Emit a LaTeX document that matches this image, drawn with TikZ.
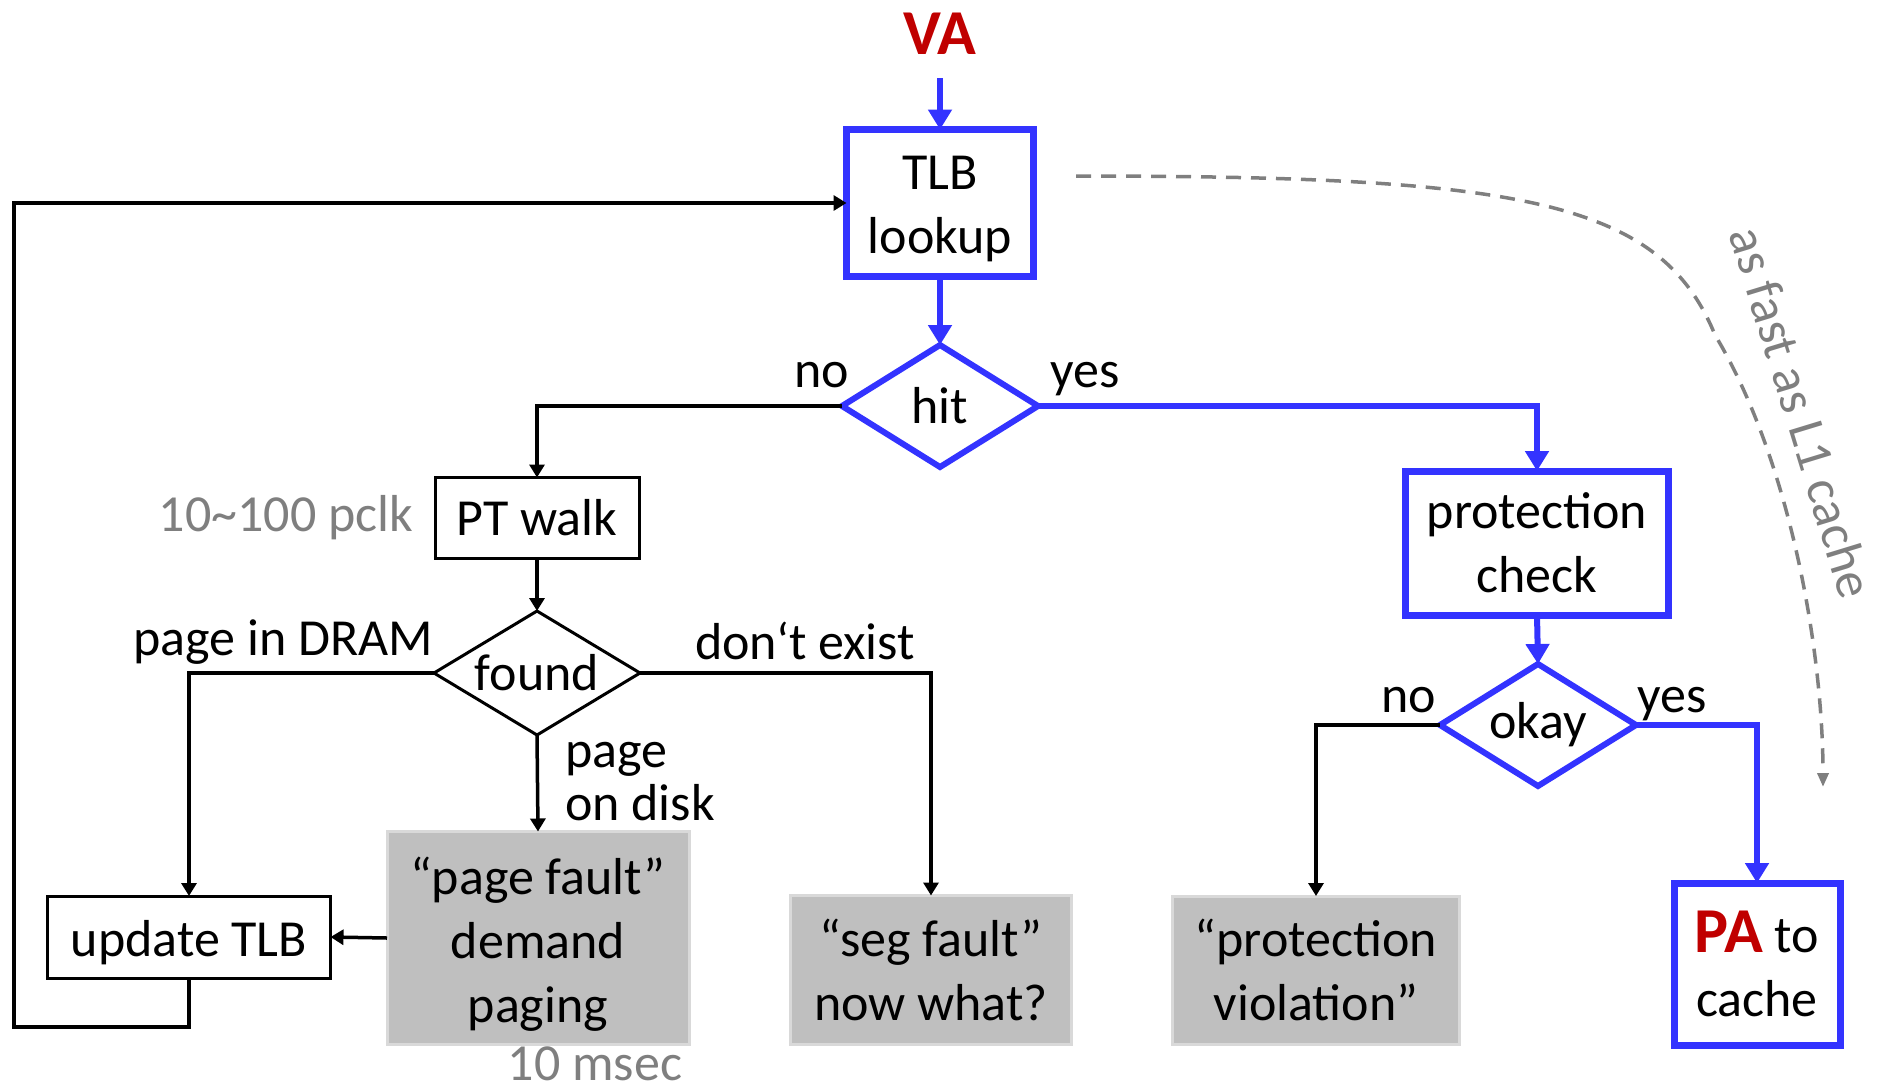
\documentclass[tikz,border=0pt]{standalone}
\usepackage{fontspec}
\setmainfont{Carlito}
\usetikzlibrary{arrows.meta,shapes.geometric}
\definecolor{myblue}{HTML}{3333FF}
\definecolor{myred}{HTML}{C00000}
\definecolor{txtgray}{HTML}{7F7F7F}
\definecolor{boxgray}{HTML}{BFBFBF}
\definecolor{boxedge}{HTML}{D9D9D9}
\newcommand{\lowtext}[1]{\raisebox{-6pt}[\height][\depth]{#1}}
\begin{document}
\begin{tikzpicture}[x=1pt,y=-1pt,
  every node/.style={font=\fontsize{52}{64}\selectfont, inner sep=0pt, outer sep=0pt},
  bluebox/.style={rectangle, draw=myblue, line width=7pt, fill=white, align=center},
  blackbox/.style={rectangle, draw=black, line width=3pt, fill=white, align=center},
  graybox/.style={rectangle, draw=boxedge, line width=3pt, fill=boxgray, align=center},
  bluedia/.style={diamond, aspect=1.6, draw=myblue, line width=6pt, fill=white, minimum width=196pt, minimum height=122pt},
  blackdia/.style={diamond, aspect=1.6, draw=black, line width=3pt, fill=white, minimum width=206pt, minimum height=124pt},
  bluearrow/.style={draw=myblue, line width=6pt, -{Triangle[length=20pt,width=23pt]}},
  blackarrow/.style={draw=black, line width=3.5pt, -{Triangle[length=13pt,width=15pt]}},
  graytext/.style={text=txtgray},
  bigbold/.style={font=\fontsize{64}{64}\selectfont\bfseries, text=myred},
  fastline/.style={draw=txtgray, line width=3.5pt, dash pattern=on 15pt off 10pt, -{Triangle[length=14pt,width=11pt]}}
]
\useasboundingbox (0,0) rectangle (1879,1090);

% title and entry
\node[bigbold] (VA) at (940,34) {VA};
\coordinate (vaout) at (940,78);

% nodes
\node[bluebox, minimum width=187pt, minimum height=147pt] (TLB) at (940,203) {\lowtext{TLB}\\\lowtext{lookup}};
\node[bluedia] (hit) at (940,406) {hit};
\node[blackbox, minimum width=204pt, minimum height=81pt] (PT) at (537,518) {PT walk};
\node[blackdia] (found) at (537,673) {found};
\node[blackbox, minimum width=283pt, minimum height=82pt] (upd) at (189,937) {\lowtext{update TLB}};
\node[graybox, minimum width=302pt, minimum height=213pt] (pf) at (538,938) {\lowtext{“page fault”}\\\lowtext{demand}\\\lowtext{paging}};
\node[graybox, minimum width=281pt, minimum height=149pt] (seg) at (931,970) {“seg fault”\\now what?};
\node[bluebox, minimum width=263pt, minimum height=144pt] (prot) at (1537,543) {protection\\check};
\node[bluedia] (okay) at (1538,725) {okay};
\node[graybox, minimum width=287pt, minimum height=148pt] (viol) at (1316,970) {“protection\\violation”};
\node[bluebox, minimum width=166pt, minimum height=162pt] (PA) at (1757,964) {{\fontsize{64}{64}\selectfont\bfseries\color{myred}PA} to\\cache};

% labels
\node[anchor=base] (nohit) at (822,387) {no};
\node[anchor=base] (yeshit) at (1085,387) {yes};
\node[anchor=base] (nook) at (1409,712) {no};
\node[anchor=base] (yesok) at (1672,712) {yes};
\node[anchor=base east] (dram) at (433,655) {page in DRAM};
\node[anchor=base west] (noex) at (695,659) {don‘t exist};
\node[anchor=base west, align=left, font=\fontsize{52}{53}\selectfont] (disk) at (565,820) {page\\on disk};
\node[graytext, anchor=base east] (pclk) at (413,531) {10\textasciitilde100 pclk};
\node[graytext, anchor=base] (msec) at (595,1080) {10 msec};
\node[graytext, rotate=-73] (fast) at (1802,412) {as fast as L1 cache};

% connectors
\draw[bluearrow] (vaout) -- (TLB.north);
\draw[bluearrow] (TLB.south) -- (hit.north);
\draw[blackarrow] (hit.west) -| (PT.north);
\draw[bluearrow] (hit.east) -| (prot.north);
\draw[blackarrow] (PT.south) -- (found.north);
\draw[blackarrow] (found.west) -| (upd.north);
\draw[blackarrow] (found.east) -| (seg.north);
\draw[blackarrow] (found.south) -- (pf.north);
\draw[blackarrow] (pf.west) -- (upd.east);
\coordinate (loopL) at (14,1027);
\draw[blackarrow] (upd.south) |- (loopL) |- (TLB.west);
\draw[bluearrow] (prot.south) -- (okay.north);
\draw[blackarrow] (okay.west) -| (viol.north);
\draw[bluearrow] (okay.east) -| (PA.north);

% dashed "fast path"
\coordinate (fastA) at (1076,176);
\coordinate (fastB) at (1823,787);
\draw[fastline] (fastA) .. controls (1520,176) and (1660,200) .. (1715,335)
                        .. controls (1790,460) and (1823,650) .. (fastB);
\end{tikzpicture}
\end{document}
